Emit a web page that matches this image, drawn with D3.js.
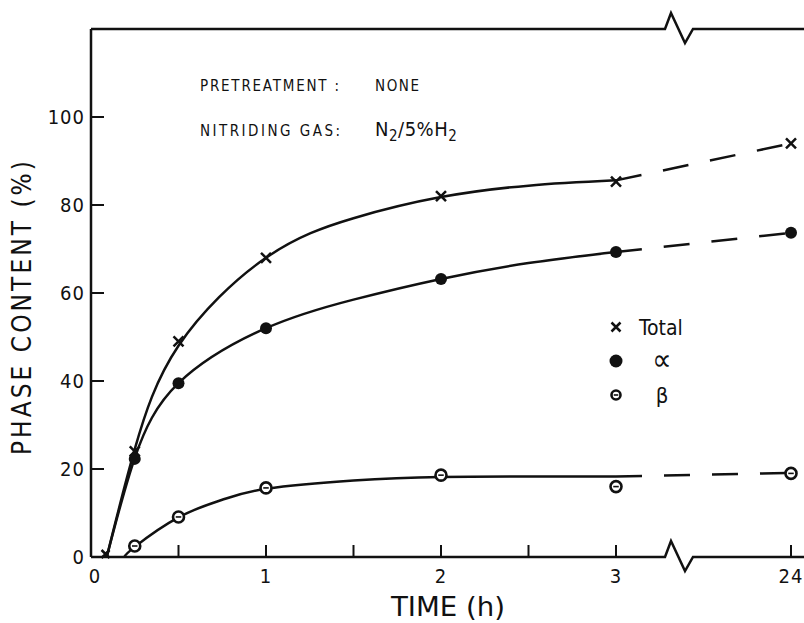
<!DOCTYPE html>
<html>
<head>
<meta charset="utf-8">
<script src="https://cdn.jsdelivr.net/npm/d3@7"></script>
<style>
  body { margin: 0; background: #fff; }
  svg text { font-family: "DejaVu Sans Condensed", "DejaVu Sans", sans-serif; font-stretch: condensed; fill: #111; }
</style>
</head>
<body>
<svg id="chart"></svg>
<script>
// measured points (time in h, phase content in %)
const times = [0.083, 0.25, 0.5, 1, 2, 3, 24];
const totalPts = [0, 24, 49, 68, 82, 85.3, 94];
const alphaPts = [null, 22.3, 39.5, 52, 63.2, 69.3, 73.7];
const betaPts = [null, 2.5, 9.1, 15.7, 18.6, 16, 19];

// hand drawn fitted curves
const curveTimes = [0.09, 0.25, 0.5, 1, 1.5, 2, 2.5, 3];
const totalCurve = [0, 24.5, 48, 68, 77, 81.8, 84.4, 85.6];
const alphaCurve = [0, 22.5, 39.5, 52, 58.5, 63.2, 66.8, 69.3];
const betaTimes = [0.19, 0.25, 0.5, 0.75, 1, 1.5, 2, 2.5, 3];
const betaCurve = [0, 2.3, 9, 13, 15.5, 17.4, 18.2, 18.3, 18.3];
// dashed extension 3 h -> 24 h
const extTimes = [3, 24];
const totalExt = [85.6, 94];
const alphaExt = [69.3, 73.7];
const betaExt = [18.3, 19.1];

const xMajor = [0, 1, 2, 3, 24];
const xMinor = [0.5, 1.5, 2.5];
const yTicks = [0, 20, 40, 60, 80, 100];

const width = 804;
const height = 623;

const svg = d3.select("#chart")
    .attr("width", width)
    .attr("height", height);

// broken time axis: 0-3 h linear, then jump to 24 h
const xScale = d3.scaleLinear()
    .domain([0, 3, 24])
    .range([91, 616, 791]);

const yScale = d3.scaleLinear()
    .domain([0, 120])
    .range([557, 29]);

const plotLeft = 91, plotRight = 808, plotTop = yScale(120), plotBottom = yScale(0);
const breakX = xScale(3) + 49;

// frame with zig-zag axis breaks
function edge(y) {
    return `M${plotLeft},${y} H${breakX} L${breakX + 6},${y - 16} L${breakX + 20},${y + 14} L${breakX + 28},${y} H${plotRight}`;
}
svg.append("path").attr("d", edge(plotTop))
    .attr("fill", "none").attr("stroke", "#111").attr("stroke-width", 2.5);
svg.append("path").attr("d", edge(plotBottom))
    .attr("fill", "none").attr("stroke", "#111").attr("stroke-width", 2.5);
svg.append("line")
    .attr("x1", plotLeft).attr("x2", plotLeft).attr("y1", plotTop).attr("y2", plotBottom)
    .attr("stroke", "#111").attr("stroke-width", 2.5);

// y ticks (inward)
svg.selectAll(".ytick")
    .data(yTicks)
    .enter()
    .append("line")
    .attr("x1", plotLeft).attr("x2", plotLeft + 13)
    .attr("y1", d => yScale(d)).attr("y2", d => yScale(d))
    .attr("stroke", "#111").attr("stroke-width", 2);

svg.selectAll(".ylab")
    .data(yTicks)
    .enter()
    .append("text")
    .attr("x", plotLeft - 6)
    .attr("y", d => yScale(d) + 7)
    .attr("text-anchor", "end")
    .style("font-size", "20px")
    .style("letter-spacing", "1px")
    .text(d => d);

// x ticks (inward)
svg.selectAll(".xtick")
    .data(xMajor.concat(xMinor))
    .enter()
    .append("line")
    .attr("x1", d => xScale(d)).attr("x2", d => xScale(d))
    .attr("y1", plotBottom).attr("y2", plotBottom - 12)
    .attr("stroke", "#111").attr("stroke-width", 2);

svg.selectAll(".xlab")
    .data(xMajor)
    .enter()
    .append("text")
    .attr("x", d => xScale(d) + (d === 0 ? 4 : 0))
    .attr("y", plotBottom + 26)
    .attr("text-anchor", "middle")
    .style("font-size", "20px")
    .style("letter-spacing", "1px")
    .text(d => d);

// axis titles
svg.append("text")
    .attr("x", 448)
    .attr("y", 616)
    .attr("text-anchor", "middle")
    .style("font-size", "26px")
    .attr("textLength", 114)
    .attr("lengthAdjust", "spacingAndGlyphs")
    .text("TIME (h)");

svg.append("text")
    .attr("transform", "translate(31,308) rotate(-90)")
    .attr("text-anchor", "middle")
    .style("font-size", "26px")
    .attr("textLength", 294)
    .attr("lengthAdjust", "spacing")
    .text("PHASE  CONTENT  (%)");

// annotation
svg.append("text").attr("x", 200).attr("y", 91)
    .style("font-size", "15px").attr("textLength", 139).attr("lengthAdjust", "spacing")
    .text("PRETREATMENT :");
svg.append("text").attr("x", 375).attr("y", 91)
    .style("font-size", "15px").attr("textLength", 44).attr("lengthAdjust", "spacing")
    .text("NONE");
svg.append("text").attr("x", 200).attr("y", 136)
    .style("font-size", "15px").attr("textLength", 140).attr("lengthAdjust", "spacing")
    .text("NITRIDING GAS:");
const gas = svg.append("text").attr("x", 375).attr("y", 136)
    .style("font-size", "20px")
    .style("letter-spacing", "0.5px");
gas.append("tspan").text("N");
gas.append("tspan").attr("dy", 5).style("font-size", "15px").text("2");
gas.append("tspan").attr("dy", -5).text("/5%H");
gas.append("tspan").attr("dy", 5).style("font-size", "15px").text("2");

// curves
const line = d3.line()
    .x(d => xScale(d[0]))
    .y(d => yScale(d[1]))
    .curve(d3.curveNatural);

const solidSets = [
    d3.zip(curveTimes, totalCurve),
    d3.zip(curveTimes, alphaCurve),
    d3.zip(betaTimes, betaCurve)
];
svg.selectAll(".fit")
    .data(solidSets)
    .enter()
    .append("path")
    .attr("d", line)
    .attr("fill", "none")
    .attr("stroke", "#111")
    .attr("stroke-width", 2.5);

const extLine = d3.line()
    .x(d => xScale(d[0]))
    .y(d => yScale(d[1]));

svg.selectAll(".ext")
    .data([d3.zip(extTimes, totalExt), d3.zip(extTimes, alphaExt), d3.zip(extTimes, betaExt)])
    .enter()
    .append("path")
    .attr("d", extLine)
    .attr("fill", "none")
    .attr("stroke", "#111")
    .attr("stroke-width", 2.5)
    .attr("stroke-dasharray", "26,22");

// markers
function cross(g, x, y, s) {
    g.append("path")
        .attr("d", `M${x - s},${y - s} L${x + s},${y + s} M${x - s},${y + s} L${x + s},${y - s}`)
        .attr("stroke", "#111").attr("stroke-width", 2.5).attr("fill", "none");
}
function dot(g, x, y, r) {
    g.append("circle").attr("cx", x).attr("cy", y).attr("r", r).attr("fill", "#111");
}
function ring(g, x, y, r) {
    g.append("circle").attr("cx", x).attr("cy", y).attr("r", r)
        .attr("fill", "#fff").attr("stroke", "#111").attr("stroke-width", 2.6);
    g.append("line").attr("x1", x - r * 0.5).attr("x2", x + r * 0.5)
        .attr("y1", y).attr("y2", y).attr("stroke", "#111").attr("stroke-width", 1.6);
}

const marks = svg.append("g");
times.forEach((t, i) => {
    if (totalPts[i] !== null && i > 0) cross(marks, xScale(t), yScale(totalPts[i]), 5);
    if (alphaPts[i] !== null) dot(marks, xScale(t), yScale(alphaPts[i]), 6);
    if (betaPts[i] !== null) ring(marks, xScale(t), yScale(betaPts[i]), 5.5);
});
// first total point sits on the axis
cross(marks, xScale(times[0]), yScale(totalPts[0]) - 3, 4);

// legend
const legend = svg.append("g");
const legendItems = ["Total", "\u221D", "\u03B2"];
const legendSizes = [21, 30, 22];
legendItems.forEach((name, i) => {
    const y = 327 + i * 34;
    if (i === 0) cross(legend, 616, y, 4.5);
    if (i === 1) dot(legend, 616, y, 6.5);
    if (i === 2) ring(legend, 616, y, 4.5);
    legend.append("text")
        .attr("x", i === 0 ? 639 : 662)
        .attr("y", y + (i === 1 ? 9 : 8))
        .attr("text-anchor", i === 0 ? "start" : "middle")
        .style("font-size", legendSizes[i] + "px")
        .text(name);
});
</script>
</body>
</html>
